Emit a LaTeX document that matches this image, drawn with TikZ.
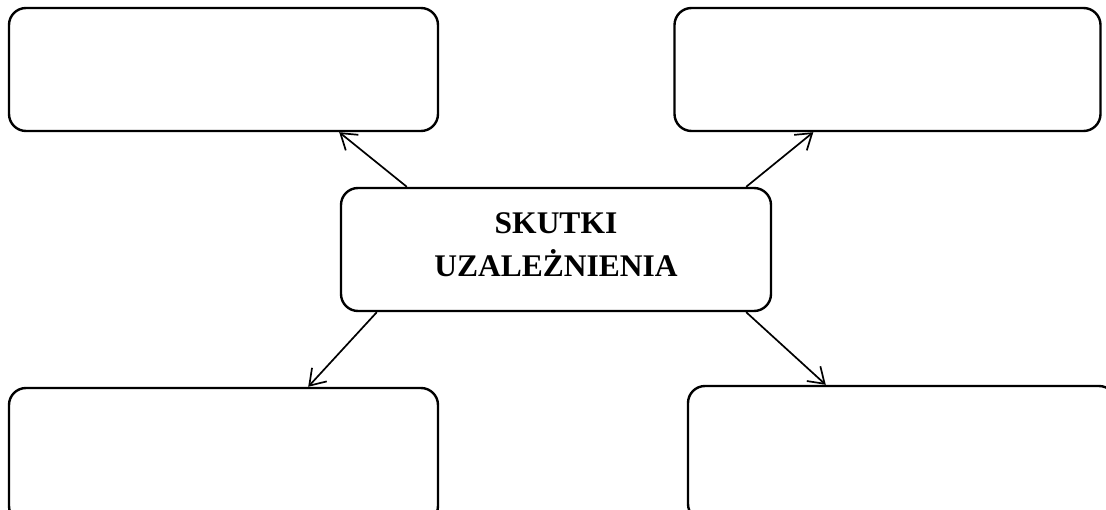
\documentclass[tikz,border=0pt]{standalone}
\usepackage{fontspec}
\setmainfont{Liberation Serif}
\usetikzlibrary{arrows.meta,calc}
\begin{document}
\begin{tikzpicture}[x=1pt,y=-1pt,
  box/.style={draw=black,line width=2.4pt,rounded corners=17pt,fill=white,inner sep=0pt},
  conn/.style={line width=1.7pt,-{Straight Barb[length=15pt,width=20pt,line width=1.7pt]}},
  title/.style={align=center,font=\fontsize{31.5}{43}\selectfont\bfseries,inner sep=0pt}]
\useasboundingbox (0,0) rectangle (1106,510);
\fill[white] (0,0) rectangle (1106,510);
\node[box,minimum width=429pt,minimum height=123pt] (tl) at (223.5,69.5) {};
\node[box,minimum width=426pt,minimum height=123pt] (tr) at (887.5,69.5) {};
\node[box,minimum width=430pt,minimum height=123pt] (c) at (556,249.5) {};
\node[title] (ct) at ([yshift=5pt]c.center) {SKUTKI\\UZALEŻNIENIA};
\node[box,minimum width=429pt,minimum height=135pt] (bl) at (223.5,455.5) {};
\node[box,minimum width=428pt,minimum height=135pt] (br) at (902,453.5) {};
\draw[conn] ([xshift=67pt]c.north west) -- ([xshift=-100pt]tl.south east);
\draw[conn] ([xshift=-26pt]c.north east) -- ([xshift=140pt]tr.south west);
\draw[conn] ([xshift=37pt]c.south west) -- ([xshift=-131pt]bl.north east);
\draw[conn] ([xshift=-26pt]c.south east) -- ([xshift=139pt]br.north west);
\end{tikzpicture}
\end{document}
